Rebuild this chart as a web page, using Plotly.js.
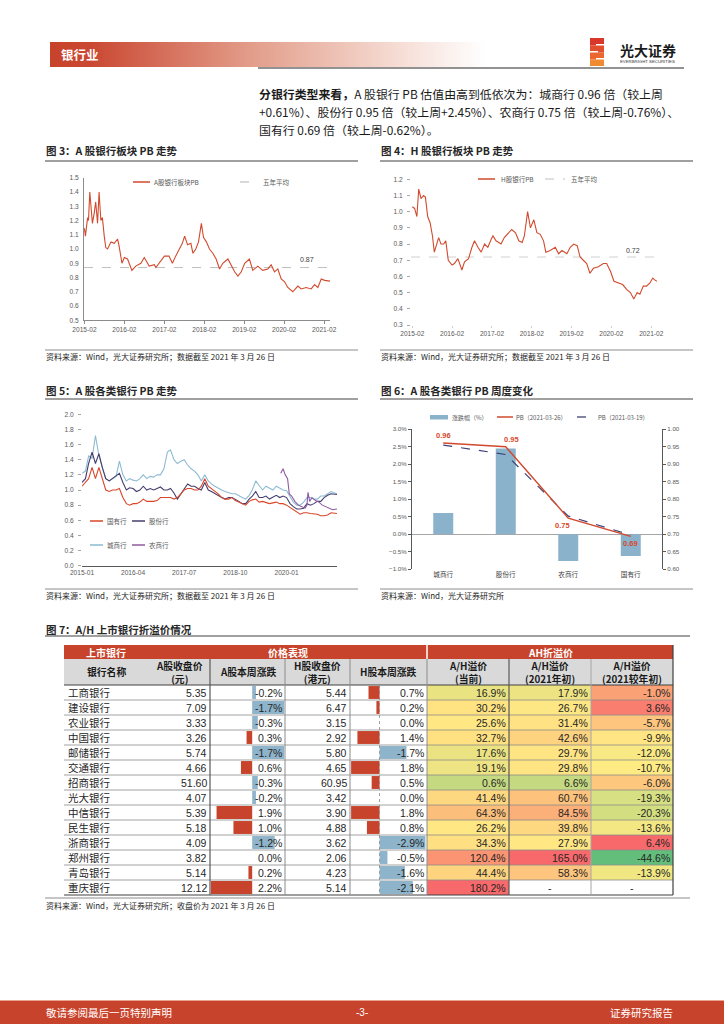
<!DOCTYPE html>
<html><head><meta charset="utf-8">
<script src="https://cdn.plot.ly/plotly-3.0.1.min.js"></script>
<style>html,body{margin:0;padding:0;background:#fff;}#page{width:724px;height:1024px;}</style>
</head><body><div id="page"></div>
<script>
// ---------------- DATA ----------------
// Fig 3: A-share bank sector PB
const aDates=['2015-02-01','2015-02-10','2015-03-02','2015-03-10','2015-03-22','2015-04-06','2015-04-15','2015-05-01','2015-05-15','2015-06-01','2015-06-15','2015-07-01','2015-07-15','2015-08-01','2015-08-15','2015-09-01','2015-10-01','2015-11-01','2015-12-01','2015-12-15','2016-01-01','2016-01-10','2016-02-01','2016-03-01','2016-04-10','2016-05-15','2016-07-01','2016-08-01','2016-09-15','2016-11-01','2016-11-15','2016-12-15','2017-02-01','2017-03-15','2017-04-15','2017-05-15','2017-06-15','2017-07-15','2017-08-05','2017-09-01','2017-10-01','2017-10-20','2017-11-15','2017-12-10','2018-01-05','2018-01-25','2018-02-20','2018-03-20','2018-04-20','2018-05-20','2018-06-20','2018-07-20','2018-09-05','2018-10-05','2018-11-05','2018-12-05','2019-01-05','2019-02-05','2019-03-20','2019-04-20','2019-06-05','2019-07-20','2019-09-05','2019-10-05','2019-11-05','2019-12-05','2020-01-05','2020-02-05','2020-03-05','2020-04-20','2020-06-05','2020-07-05','2020-08-20','2020-10-05','2020-11-05','2020-12-05','2021-01-05','2021-02-05','2021-03-05','2021-03-26'];
const aPB=[1.145,1.09,1.22,1.20,1.40,1.25,1.18,1.25,1.33,1.18,1.40,1.20,1.22,1.09,1.01,1.00,1.05,1.04,1.07,1.02,0.95,0.90,0.94,0.93,0.85,0.88,0.90,0.94,0.88,0.89,0.87,0.90,0.95,0.95,0.90,0.95,1.00,1.04,1.09,1.03,1.04,0.97,1.00,1.05,1.18,1.08,1.05,1.00,0.97,0.93,0.86,0.90,0.93,0.88,0.84,0.81,0.84,0.90,0.93,0.85,0.88,0.85,0.86,0.89,0.84,0.86,0.79,0.77,0.73,0.70,0.74,0.72,0.73,0.72,0.75,0.73,0.79,0.78,0.78,0.775];
const aAvg=0.87;
// Fig 4: H-share bank sector PB
const hDates=['2015-02-01','2015-02-22','2015-03-15','2015-04-01','2015-04-22','2015-05-15','2015-06-01','2015-06-22','2015-07-15','2015-08-05','2015-08-22','2015-09-15','2015-10-01','2015-10-22','2015-11-15','2015-12-05','2015-12-28','2016-02-01','2016-02-22','2016-03-25','2016-04-18','2016-05-01','2016-05-25','2016-07-01','2016-08-01','2016-08-25','2016-09-25','2016-10-25','2016-11-25','2016-12-25','2017-01-25','2017-02-10','2017-03-10','2017-04-25','2017-05-25','2017-06-25','2017-08-01','2017-09-05','2017-10-05','2017-11-05','2017-11-25','2017-12-25','2018-01-20','2018-02-20','2018-03-20','2018-04-20','2018-05-20','2018-06-10','2018-07-20','2018-09-05','2018-10-05','2018-11-05','2018-12-20','2019-01-20','2019-02-20','2019-03-25','2019-04-20','2019-05-20','2019-06-20','2019-07-20','2019-08-20','2019-10-05','2019-11-20','2019-12-20','2020-01-25','2020-02-25','2020-04-05','2020-05-15','2020-06-20','2020-07-25','2020-08-25','2020-09-25','2020-10-20','2020-11-20','2020-12-20','2021-01-20','2021-02-15','2021-03-01','2021-03-26'];
const hPB=[1.03,1.02,0.97,1.14,1.08,1.10,1.09,0.97,0.93,0.85,0.75,0.80,0.84,0.80,0.80,0.82,0.70,0.67,0.68,0.71,0.66,0.64,0.69,0.71,0.78,0.82,0.78,0.75,0.80,0.78,0.83,0.85,0.82,0.80,0.84,0.86,0.89,0.87,0.82,0.81,0.85,1.00,0.90,0.95,0.87,0.86,0.82,0.75,0.76,0.78,0.74,0.76,0.74,0.78,0.80,0.79,0.72,0.70,0.68,0.62,0.65,0.66,0.68,0.68,0.63,0.57,0.56,0.55,0.52,0.50,0.46,0.50,0.49,0.54,0.54,0.56,0.59,0.58,0.57];
const hAvg=0.72;
const yearTicks=['2015-02-01','2016-02-01','2017-02-01','2018-02-01','2019-02-01','2020-02-01','2021-02-01'];
const yearLabels=['2015-02','2016-02','2017-02','2018-02','2019-02','2020-02','2021-02'];
// Fig 5: A-share PB by bank type
const months5=['2015-01-01','2015-02-01','2015-03-01','2015-04-01','2015-05-01','2015-06-01','2015-07-01','2015-08-01','2015-09-01','2015-10-01','2015-11-01','2015-12-01',
'2016-01-01','2016-02-01','2016-03-01','2016-04-01','2016-05-01','2016-06-01','2016-07-01','2016-08-01','2016-09-01','2016-10-01','2016-11-01','2016-12-01',
'2017-01-01','2017-02-01','2017-03-01','2017-04-01','2017-05-01','2017-06-01','2017-07-01','2017-08-01','2017-09-01','2017-10-01','2017-11-01','2017-12-01',
'2018-01-01','2018-02-01','2018-03-01','2018-04-01','2018-05-01','2018-06-01','2018-07-01','2018-08-01','2018-09-01','2018-10-01','2018-11-01','2018-12-01',
'2019-01-01','2019-02-01','2019-03-01','2019-04-01','2019-05-01','2019-06-01','2019-07-01','2019-08-01','2019-09-01','2019-10-01','2019-11-01','2019-12-01',
'2020-01-01','2020-02-01','2020-03-01','2020-04-01','2020-05-01','2020-06-01','2020-07-01','2020-08-01','2020-09-01','2020-10-01','2020-11-01','2020-12-01',
'2021-01-01','2021-02-01','2021-03-26'];
const stateBanks=[1.05,1.10,1.15,1.30,1.15,1.30,1.15,1.00,0.98,1.00,1.00,1.02,
0.90,0.82,0.80,0.82,0.82,0.84,0.88,0.85,0.85,0.85,0.86,0.90,
0.90,0.90,0.90,0.88,0.90,0.95,1.00,1.02,1.02,1.00,1.00,1.05,
1.15,1.05,1.02,0.98,0.95,0.90,0.88,0.88,0.90,0.86,0.84,0.82,
0.80,0.85,0.87,0.88,0.84,0.85,0.84,0.82,0.83,0.84,0.82,0.82,
0.80,0.77,0.75,0.71,0.68,0.70,0.70,0.69,0.68,0.68,0.66,0.66,
0.67,0.70,0.69];
const jointBanks=[1.10,1.15,1.35,1.50,1.35,1.48,1.30,1.15,1.12,1.15,1.18,1.22,
1.10,1.00,1.03,1.02,0.98,1.00,1.05,1.00,1.02,1.00,1.02,1.04,
1.00,1.00,1.02,0.96,0.88,0.95,1.00,1.08,1.05,1.05,1.02,1.00,
1.10,1.00,0.98,0.95,0.92,0.90,0.88,0.90,0.90,0.88,0.85,0.82,
0.82,0.88,0.92,0.98,0.90,0.90,0.92,0.88,0.90,0.93,0.90,0.92,
0.90,0.82,0.78,0.75,0.75,0.76,0.82,0.80,0.82,0.85,0.85,0.90,
0.93,0.95,0.94];
const cityBanks=[1.22,1.25,1.45,1.42,1.72,1.45,1.30,1.15,1.12,1.15,1.18,1.38,
1.20,1.12,1.15,1.13,1.12,1.15,1.20,1.15,1.18,1.17,1.20,1.20,
1.28,1.50,1.53,1.40,1.35,1.38,1.40,1.33,1.28,1.25,1.20,1.12,
1.20,1.12,1.08,1.05,1.02,1.00,0.98,0.96,0.95,0.95,0.92,0.90,
0.88,0.93,1.00,1.12,1.06,1.00,1.05,1.02,1.00,1.05,1.02,1.00,
0.99,0.92,0.84,0.80,0.80,0.84,0.90,0.90,0.88,0.88,0.92,0.92,
0.95,0.98,0.95];
const ruralDates=['2019-11-10','2019-12-01','2019-12-20','2020-01-10','2020-01-25','2020-02-15','2020-03-15','2020-04-15','2020-05-15','2020-06-15','2020-07-01','2020-07-10','2020-07-25','2020-08-15','2020-09-15','2020-10-15','2020-11-15','2020-12-15','2021-01-15','2021-02-15','2021-03-26'];
const ruralBanks=[1.22,1.28,1.20,1.15,0.95,0.92,0.85,0.80,0.78,0.76,0.80,0.97,0.85,0.90,0.86,0.84,0.80,0.78,0.76,0.74,0.75];
const ticks5=['2015-01-01','2016-04-01','2017-07-01','2018-10-01','2020-01-01'];
const labels5=['2015-01','2016-04','2017-07','2018-10','2020-01'];
// Fig 6: weekly change
const cats6=['城商行','股份行','农商行','国有行'];
const chg6=[0.61,2.45,-0.76,-0.62];
const pb0326=[0.961,0.950,0.746,0.694];
const pb0319=[0.955,0.928,0.752,0.698];
// Fig 7: A/H table
const banks=['工商银行','建设银行','农业银行','中国银行','邮储银行','交通银行','招商银行','光大银行','中信银行','民生银行','浙商银行','郑州银行','青岛银行','重庆银行'];
const aPrice=[5.35,7.09,3.33,3.26,5.74,4.66,51.60,4.07,5.39,5.18,4.09,3.82,5.14,12.12];
const aChg=[-0.2,-1.7,-0.3,0.3,-1.7,0.6,-0.3,-0.2,1.9,1.0,-1.2,0.0,0.2,2.2];
const hPrice=[5.44,6.47,3.15,2.92,5.80,4.65,60.95,3.42,3.90,4.88,3.62,2.06,4.23,5.14];
const hChg=[0.7,0.2,0.0,1.4,-1.7,1.8,0.5,0.0,1.8,0.8,-2.9,-0.5,-1.6,-2.1];
const ahNow=[16.9,30.2,25.6,32.7,17.6,19.1,0.6,41.4,64.3,26.2,34.3,120.4,44.4,180.2];
const ah2021=[17.9,26.7,31.4,42.6,29.7,29.8,6.6,60.7,84.5,39.8,27.9,165.0,58.3,null];
const ahDiff=[-1.0,3.6,-5.7,-9.9,-12.0,-10.7,-6.0,-19.3,-20.3,-13.6,6.4,-44.6,-13.9,null];

// ---------------- LAYOUT HELPERS ----------------
const W=724,H=1024;
const dX=(a,b)=>[a/W,b/W];
const dY=(t,b)=>[1-b/H,1-t/H];
const CJK='"Noto Sans CJK SC","Noto Sans",sans-serif';
const NUM='"Liberation Sans","Noto Sans CJK SC",sans-serif';
const RED='#C8432B', LINE_RED='#D24A2D', BLUE='#8DB4CB', NAVY='#3E4277';
const shapes=[], anns=[];
function L(x0,y0,x1,y1,color,width,dash){shapes.push({type:'line',xref:'x8',yref:'y8',x0:x0,y0:y0,x1:x1,y1:y1,line:{color:color,width:width||1,dash:dash||'solid'},layer:'above'});}
function R(x0,y0,x1,y1,fill,layer){shapes.push({type:'rect',xref:'x8',yref:'y8',x0:x0,y0:y0,x1:x1,y1:y1,fillcolor:fill,line:{width:0},layer:layer||'below'});}
function T(x,y,text,size,o){o=o||{};anns.push({xref:'x8',yref:'y8',x:x,y:y,text:text,showarrow:false,xanchor:o.xa||'left',yanchor:o.ya||'middle',align:o.align||'left',borderpad:0,font:{family:o.family||CJK,size:size,color:o.color||'#262626'}});}

// ---------------- PAGE FRAME ----------------
const gradZ=[[],[]];
for(let i=0;i<44;i++){gradZ[0].push(i);gradZ[1].push(i);}
T(60,54,'<b>银行业</b>',12.5,{color:'#ffffff'});
L(258,68,684,68,'#262626',1.2);
// logo
R(590,38,604,44,'#D9372A','above');R(590,45.5,604,51,'#E24F2C','above');R(590,52.5,604,58,'#EA682E','above');R(590,59.5,604,66,'#F08A33','above');
R(590,44,596,45.5,'#D9372A','above');R(598,51,604,52.5,'#E24F2C','above');R(590,58,596,59.5,'#EA682E','above');
T(619,50,'<b>光大证券</b>',14,{color:'#1a1a1a'});
T(619,61.5,'EVERBRIGHT SECURITIES',4.3,{color:'#333',family:NUM});
// paragraph
T(258,93,'<b>分银行类型来看，</b>A 股银行 PB 估值由高到低依次为：城商行 0.96 倍（较上周',11.9,{color:'#1a1a1a'});
T(258,111,'+0.61%）、股份行 0.95 倍（较上周+2.45%）、农商行 0.75 倍（较上周-0.76%）、',11.9,{color:'#1a1a1a'});
T(258,129,'国有行 0.69 倍（较上周-0.62%）。',11.9,{color:'#1a1a1a'});
// figure titles & separators
const src1='资料来源：Wind，光大证券研究所；数据截至 2021 年 3 月 26 日';
T(45,150,'<b>图 3：A 股银行板块 PB 走势</b>',10.5);
T(380,150,'<b>图 4：H 股银行板块 PB 走势</b>',10.5);
T(45,390,'<b>图 5：A 股各类银行 PB 走势</b>',10.5);
T(380,390,'<b>图 6：A 股各类银行 PB 周度变化</b>',10.5);
T(45,629,'<b>图 7：A/H 上市银行折溢价情况</b>',10.5);
[[45,358,161],[380,693,161],[45,358,399],[380,693,399],[45,690,636]].forEach(s=>L(s[0],s[2],s[1],s[2],'#808080',1.3));
[[45,358,350],[380,693,350],[45,358,589],[380,693,589],[45,690,898]].forEach(s=>L(s[0],s[2],s[1],s[2],'#808080',0.9));
T(45,356,src1,8);T(380,356,src1,8);T(45,595,src1,8);
T(380,595,'资料来源：Wind，光大证券研究所',8);
T(45,905,'资料来源：Wind，光大证券研究所；收盘价为 2021 年 3 月 26 日',8);
// footer
R(0,1001,724,1024,RED);
L(0,1000.5,724,1000.5,'#E9A393',1.2);
T(45,1012,'敬请参阅最后一页特别声明',10.5,{color:'#ffffff'});
T(362,1012,'-3-',10,{color:'#ffffff',xa:'center',family:NUM});
T(674,1012,'证券研究报告',10.5,{color:'#ffffff',xa:'right'});

// ---------------- LEGENDS ----------------
const lg={color:'#595959'};
L(133,182,150,182,LINE_RED,1.5);T(153,182,'A股银行板块PB',6.5,lg);
L(240,182,257,182,'#bfbfbf',1.2,'dash');T(262,182,'五年平均',6.5,lg);
L(478,179,495,179,LINE_RED,1.5);T(500,179,'H股银行PB',6.5,lg);
L(545,179,565,179,'#bfbfbf',1.2,'dash');T(570,179,'五年平均',6.5,lg);
L(90,521,103,521,'#D9472B',1.5);T(106,521,'国有行',6.5,lg);
L(132,521,145,521,'#463E6E',1.5);T(148,521,'股份行',6.5,lg);
L(90,545,103,545,'#8DBBD2',1.5);T(106,545,'城商行',6.5,lg);
L(132,545,145,545,'#8E5AA0',1.5);T(148,545,'农商行',6.5,lg);
R(430,415,448,419.5,'#8AB2CA','above');T(451,417,'涨跌幅（%）',6,lg);
L(497,417,513,417,LINE_RED,1.5);T(515,417,'PB（2021-03-26）',6,lg);
L(577,417,595,417,NAVY,1.3,'dash');T(597,417,'PB（2021-03-19）',6,lg);

// ---------------- TABLE FRAME ----------------
const TL=64,TR=673,H1=645,H2=659,B0=685,RH=15,NR=banks.length,BOT=B0+RH*NR;
R(TL,H1,TR,H2,RED);
R(TL,H2,TR,B0,'#D9D9D9');
L(427,H1,427,H2,'#ffffff',1.5);
T(106,652,'<b>上市银行</b>',10,{color:'#fff',xa:'center'});
T(288,652,'<b>价格表现</b>',10,{color:'#fff',xa:'center'});
T(550,652,'<b>AH折溢价</b>',10,{color:'#fff',xa:'center'});
const hdr=[[106,'银行名称'],[179,'A股收盘价<br>(元)'],[247.5,'A股本周涨跌'],[317.5,'H股收盘价<br>(港元)'],[388.5,'H股本周涨跌'],[468,'A/H溢价<br>(当前)'],[550,'A/H溢价<br>(2021年初)'],[632,'A/H溢价<br>(2021较年初)']];
hdr.forEach(h=>T(h[0],672,'<b>'+h[1]+'</b>',9.8,{xa:'center',align:'center',color:'#1a1a1a'}));
for(let k=0;k<=NR;k++){const y=B0+RH*k;L(TL,y,TR,y,(k===0||k===NR)?'#404040':'#8c8c8c',(k===0||k===NR)?1.2:0.8);}
[[210,'#595959',1.2],[285,'#8c8c8c',1],[350,'#8c8c8c',1],[427,'#8c8c8c',1],[509,'#595959',1.2],[591,'#a6a6a6',1]].forEach(v=>L(v[0],H2,v[0],BOT,v[1],v[2]));
L(TR,H1,TR,BOT,'#404040',1.2);
L(379.5,B0,379.5,BOT,'#8c8c8c',0.8,'dot');
const pct=v=>v===null?'-':v.toFixed(1)+'%';
banks.forEach((b,i)=>{
  const y=B0+RH*i+RH/2;
  T(67,y,b,10.5,{family:CJK});
  T(208,y,aPrice[i].toFixed(2),10.5,{xa:'right',family:NUM});
  T(283,y,pct(aChg[i]),10.5,{xa:'right',family:NUM});
  T(348,y,hPrice[i].toFixed(2),10.5,{xa:'right',family:NUM});
  T(425,y,pct(hChg[i]),10.5,{xa:'right',family:NUM});
  T(507,y,pct(ahNow[i]),10.5,{xa:'right',family:NUM});
  if(ah2021[i]===null)T(550,y,'-',10.5,{xa:'center',family:NUM});else T(589,y,pct(ah2021[i]),10.5,{xa:'right',family:NUM});
  if(ahDiff[i]===null)T(632,y,'-',10.5,{xa:'center',family:NUM});else T(671,y,pct(ahDiff[i]),10.5,{xa:'right',family:NUM});
});

// ---------------- TRACES ----------------
const sk={hoverinfo:'skip',showlegend:false};
const traces=[
 Object.assign({type:'scatter',mode:'lines',x:aDates,y:aPB,xaxis:'x',yaxis:'y',line:{color:LINE_RED,width:1.1}},sk),
 Object.assign({type:'scatter',mode:'lines',x:hDates,y:hPB,xaxis:'x2',yaxis:'y2',line:{color:LINE_RED,width:1.1}},sk),
 Object.assign({type:'scatter',mode:'lines',x:months5,y:cityBanks,xaxis:'x3',yaxis:'y3',line:{color:'#8DBBD2',width:1.1}},sk),
 Object.assign({type:'scatter',mode:'lines',x:months5,y:jointBanks,xaxis:'x3',yaxis:'y3',line:{color:'#463E6E',width:1.1}},sk),
 Object.assign({type:'scatter',mode:'lines',x:ruralDates,y:ruralBanks,xaxis:'x3',yaxis:'y3',line:{color:'#8E5AA0',width:1.1}},sk),
 Object.assign({type:'scatter',mode:'lines',x:months5,y:stateBanks,xaxis:'x3',yaxis:'y3',line:{color:'#D9472B',width:1.1}},sk),
 Object.assign({type:'bar',x:cats6,y:chg6,xaxis:'x4',yaxis:'y4',width:0.32,marker:{color:'#8AB2CA'}},sk),
 Object.assign({type:'scatter',mode:'lines',x:cats6,y:pb0319,xaxis:'x4',yaxis:'y5',line:{color:NAVY,width:1.2,dash:'dash'}},sk),
 Object.assign({type:'scatter',mode:'lines',x:cats6,y:pb0326,xaxis:'x4',yaxis:'y5',line:{color:LINE_RED,width:1.4}},sk),
 Object.assign({type:'bar',orientation:'h',x:aChg,y:banks,xaxis:'x6',yaxis:'y6',width:0.86,marker:{color:aChg.map(v=>v>=0?RED:BLUE)}},sk),
 Object.assign({type:'bar',orientation:'h',x:hChg,y:banks,xaxis:'x7',yaxis:'y7',width:0.86,marker:{color:hChg.map(v=>v>=0?RED:BLUE)}},sk),
 Object.assign({type:'heatmap',z:gradZ,x0:55,dx:10,y0:48.25,dy:12.5,xaxis:'x8',yaxis:'y8',zsmooth:'best',showscale:false,
   colorscale:[[0,RED],[0.08,'#CA4832'],[0.45,'#E29C89'],[0.8,'#F6DDD5'],[1,'#FFFFFF']]},sk),
 Object.assign({type:'heatmap',z:ahNow.map(v=>[v]),x0:468,dx:82,y0:B0+RH/2,dy:RH,xaxis:'x8',yaxis:'y8',showscale:false,zmin:0.6,zmax:180.2,
   colorscale:[[0,'#C4D980'],[0.09,'#E9E382'],[0.139,'#FFE884'],[0.22,'#FED980'],[0.355,'#FCBF7B'],[0.667,'#FA9473'],[1,'#F8696B']]},sk),
 Object.assign({type:'heatmap',z:ah2021.map(v=>[v]),x0:550,dx:82,y0:B0+RH/2,dy:RH,xaxis:'x8',yaxis:'y8',showscale:false,zmin:6.6,zmax:165,
   colorscale:[[0,'#C4D980'],[0.071,'#EEE383'],[0.134,'#FFE784'],[0.227,'#FED380'],[0.49,'#FBAF79'],[1,'#F8696B']]},sk),
 Object.assign({type:'heatmap',z:ahDiff.map(v=>[v]),x0:632,dx:82,y0:B0+RH/2,dy:RH,xaxis:'x8',yaxis:'y8',showscale:false,zmin:-44.6,zmax:6.4,
   colorscale:[[0,'#63BE7B'],[0.665,'#FFEB84'],[1,'#F8696B']]},sk)
];

// chart annotations tied to axes
anns.push({xref:'x domain',x:0.943,yref:'y',y:aAvg,text:aAvg.toFixed(2),showarrow:false,yanchor:'bottom',yshift:3,font:{family:NUM,size:7,color:'#404040'}});
anns.push({xref:'x2 domain',x:0.939,yref:'y2',y:hAvg,text:hAvg.toFixed(2),showarrow:false,yanchor:'bottom',yshift:1,font:{family:NUM,size:7,color:'#404040'}});
const lblPos=[[0,'bottom',1],[6,'bottom',1],[-6,'top',-1],[0,'top',-1]];
pb0326.forEach((v,i)=>anns.push({xref:'x4',yref:'y5',x:cats6[i],y:v,text:'<b>'+v.toFixed(2)+'</b>',showarrow:false,xshift:lblPos[i][0],yanchor:lblPos[i][1],yshift:lblPos[i][2],font:{family:NUM,size:7.5,color:'#D9472B'}}));
shapes.push({type:'line',xref:'x domain',x0:0,x1:1,yref:'y',y0:aAvg,y1:aAvg,line:{color:'#bfbfbf',width:1,dash:'dash'},layer:'below'});
shapes.push({type:'line',xref:'x2 domain',x0:0,x1:1,yref:'y2',y0:hAvg,y1:hAvg,line:{color:'#d0d0d0',width:1,dash:'dash'},layer:'below'});

const tf={family:NUM,size:6.6,color:'#595959'};
const base={showgrid:false,zeroline:false,fixedrange:true,tickfont:tf};
const layout={
 width:W,height:H,margin:{l:0,r:0,t:0,b:0},paper_bgcolor:'#ffffff',plot_bgcolor:'rgba(0,0,0,0)',showlegend:false,
 font:{family:CJK},
 xaxis:Object.assign({},base,{domain:dX(84,330),anchor:'y',type:'date',range:['2015-01-28','2021-03-26'],tickmode:'array',tickvals:yearTicks,ticktext:yearLabels,showline:true,linecolor:'#8c8c8c',ticks:'outside',ticklen:3,tickcolor:'#8c8c8c'}),
 yaxis:Object.assign({},base,{domain:dY(177.7,320.3),anchor:'x',range:[0.5,1.5],tick0:0.5,dtick:0.1,tickformat:'.1f',showline:true,linecolor:'#8c8c8c',ticks:'',ticklabelstandoff:3}),
 xaxis2:Object.assign({},base,{domain:dX(411,657),anchor:'y2',type:'date',range:['2015-01-20','2021-03-26'],tickmode:'array',tickvals:yearTicks,ticktext:yearLabels,showline:false,ticks:'outside',ticklen:2,tickcolor:'#cccccc'}),
 yaxis2:Object.assign({},base,{domain:dY(179.3,325),anchor:'x2',range:[0.3,1.2],tick0:0.3,dtick:0.1,tickformat:'.1f',showline:false,ticks:'outside',ticklen:3,tickcolor:'#a6a6a6',ticklabelstandoff:3}),
 xaxis3:Object.assign({},base,{domain:dX(82,337),anchor:'y3',type:'date',range:['2015-01-01','2021-03-26'],tickmode:'array',tickvals:ticks5,ticktext:labels5,showline:true,linecolor:'#595959',ticks:''}),
 yaxis3:Object.assign({},base,{domain:dY(414.3,565.7),anchor:'x3',range:[0,2],tick0:0,dtick:0.2,tickformat:'.1f',showline:false,ticks:'outside',ticklen:3,tickcolor:'#a6a6a6',ticklabelstandoff:3}),
 xaxis4:Object.assign({},base,{domain:dX(412,662),anchor:'y4',type:'category',categoryorder:'array',categoryarray:cats6,range:[-0.5,3.5],showline:false,ticks:'',tickfont:{family:CJK,size:6.6,color:'#404040'}}),
 yaxis4:Object.assign({},base,{domain:dY(429.3,569.3),anchor:'x4',range:[-1,3],tick0:-1,dtick:0.5,tickformat:'.1f',ticksuffix:'%',showline:true,linecolor:'#595959',ticks:'outside',ticklen:3,tickcolor:'#595959',zeroline:true,zerolinecolor:'#a6a6a6',zerolinewidth:1,tickfont:{family:NUM,size:6.2,color:'#595959'}}),
 yaxis5:Object.assign({},base,{overlaying:'y4',side:'right',anchor:'x4',range:[0.6,1.0],tick0:0.6,dtick:0.05,tickformat:'.2f',showline:true,linecolor:'#595959',ticks:'outside',ticklen:3,tickcolor:'#595959',tickfont:{family:NUM,size:6.2,color:'#595959'}}),
 xaxis6:{domain:dX(210,285),anchor:'y6',range:[2.25,-1.75],visible:false,fixedrange:true},
 yaxis6:{domain:dY(B0,BOT),anchor:'x6',type:'category',categoryorder:'array',categoryarray:banks,range:[NR-0.5,-0.5],visible:false,fixedrange:true},
 xaxis7:{domain:dX(350,427),anchor:'y7',range:[1.87,-3.0],visible:false,fixedrange:true},
 yaxis7:{domain:dY(B0,BOT),anchor:'x7',type:'category',categoryorder:'array',categoryarray:banks,range:[NR-0.5,-0.5],visible:false,fixedrange:true},
 xaxis8:{domain:[0,1],anchor:'y8',range:[0,W],visible:false,fixedrange:true},
 yaxis8:{domain:[0,1],anchor:'x8',range:[H,0],visible:false,fixedrange:true},
 shapes:shapes,annotations:anns
};
Plotly.newPlot('page',traces,layout,{staticPlot:true,displayModeBar:false});
</script></body></html>
